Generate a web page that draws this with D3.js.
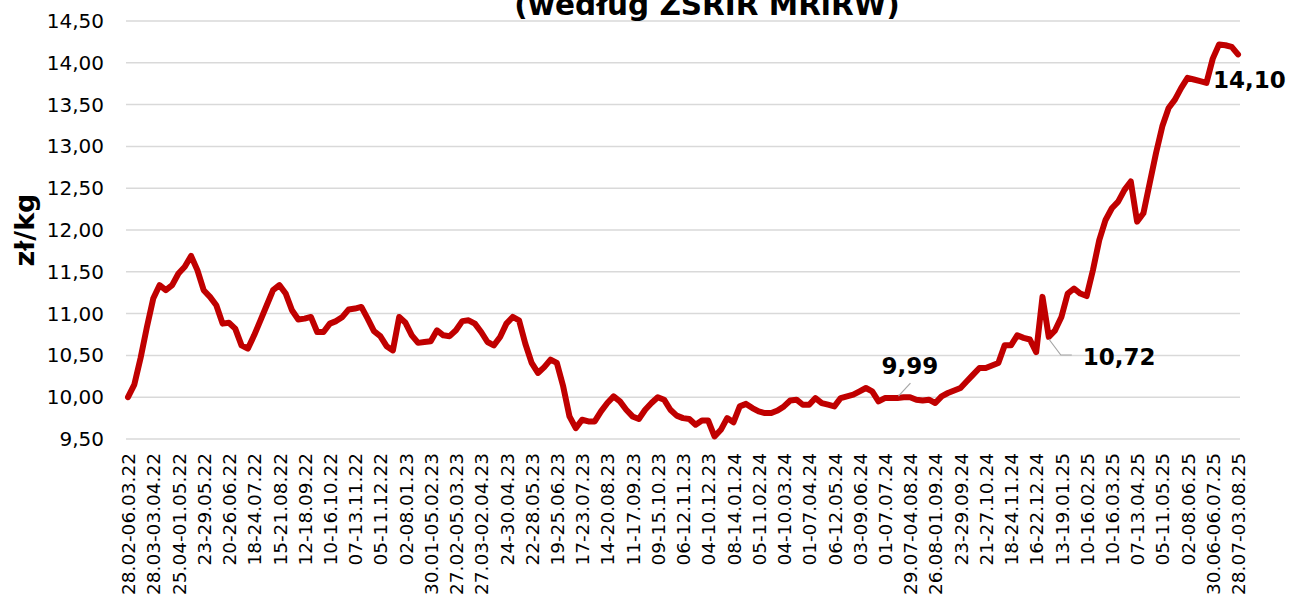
<!DOCTYPE html>
<html>
<head>
<meta charset="utf-8">
<script src="https://cdn.jsdelivr.net/npm/d3@7"></script>
<style>
  body { margin: 0; background: #fff; }
  svg { display: block; }
</style>
</head>
<body>
<div id="chart"></div>
<script>
// weekly prices, zł/kg (one value per week, two weeks missing in the series)
var prices = [
  10.00, 10.15, 10.47, 10.84, 11.18, 11.34, 11.28, 11.34, 11.48, 11.56,
  11.69, 11.52, 11.28, 11.20, 11.10, 10.88, 10.89, 10.82, 10.62, 10.58,
  10.74, 10.92, 11.10, 11.28, 11.34, 11.24, 11.04, 10.93, 10.94, 10.96,
  10.78, 10.78, 10.88, 10.91, 10.96, 11.05, 11.06, 11.08, 10.94, 10.79,
  10.73, 10.61, 10.56, 10.96, 10.89, 10.74, 10.65, 10.66, 10.67, 10.80,
  10.74, 10.73, 10.80, 10.91, 10.92, 10.88, 10.78, 10.66, 10.62, 10.72,
  10.88, 10.96, 10.92, 10.64, 10.41, 10.29, 10.36, 10.45, 10.41, 10.13,
  9.77, 9.63, 9.73, 9.71, 9.71, 9.83, 9.93, 10.01, 9.95, 9.85,
  9.77, 9.74, 9.85, 9.93, 10.00, 9.97, 9.85, 9.78, 9.75, 9.74,
  9.67, 9.72, 9.72, 9.53, 9.61, 9.75, 9.70, 9.89, 9.92, 9.87,
  9.83, 9.81, 9.81, 9.84, 9.89, 9.96, 9.97, 9.91, 9.91, 9.99,
  9.93, 9.91, 9.89, 9.99, 10.01, 10.03, 10.07, 10.11, 10.07, 9.95,
  9.99, 9.99, 9.99, 10.00, 10.00, 9.97, 9.96, 9.97, 9.93, 10.01,
  10.05, 10.08, 10.11, 10.19, 10.27, 10.35, 10.35, 10.38, 10.41, 10.62,
  10.62, 10.74, 10.71, 10.69, 10.54, 11.20, 10.72, 10.80, 10.96, 11.24,
  11.30, 11.24, 11.21, 11.52, 11.88, 12.12, 12.26, 12.34, 12.48, 12.58,
  12.10, 12.20, 12.56, 12.92, 13.24, 13.46, 13.56, 13.70, 13.82, 13.80,
  13.78, 13.76, 14.05, 14.22, 14.21, 14.19, 14.10
]

// labels shown on the x axis (every 4th week)
var weekLabels = [
  "28.02-06.03.22", "28.03-03.04.22", "25.04-01.05.22", "23-29.05.22", "20-26.06.22",
  "18-24.07.22", "15-21.08.22", "12-18.09.22", "10-16.10.22", "07-13.11.22",
  "05-11.12.22", "02-08.01.23", "30.01-05.02.23", "27.02-05.03.23", "27.03-02.04.23",
  "24-30.04.23", "22-28.05.23", "19-25.06.23", "17-23.07.23", "14-20.08.23",
  "11-17.09.23", "09-15.10.23", "06-12.11.23", "04-10.12.23", "08-14.01.24",
  "05-11.02.24", "04-10.03.24", "01-07.04.24", "06-12.05.24", "03-09.06.24",
  "01-07.07.24", "29.07-04.08.24", "26.08-01.09.24", "23-29.09.24", "21-27.10.24",
  "18-24.11.24", "16-22.12.24", "13-19.01.25", "10-16.02.25", "10-16.03.25",
  "07-13.04.25", "05-11.05.25", "02-08.06.25", "30.06-06.07.25", "28.07-03.08.25"
]

// y axis ticks
var yTicks = [9.5, 10, 10.5, 11, 11.5, 12, 12.5, 13, 13.5, 14, 14.5]

// weeks that carry a value label
var labelledWeeks = [122, 146, 176]

var width = 1290
var height = 599

var svg = d3.select("#chart")
  .append("svg")
    .attr("width", width)
    .attr("height", height)
    .style("font-family", "'DejaVu Sans', Verdana, sans-serif")

svg.append("rect").attr("width", width).attr("height", height).attr("fill", "#fff")

var x = d3.scaleLinear()
  .domain([0, prices.length - 1])
  .range([128, 1238])

var y = d3.scaleLinear()
  .domain([9.5, 14.5])
  .range([439, 21])

var fmt = function(v){ return d3.format(".2f")(v).replace(".", ",") }

// grid lines
svg.append("g")
  .selectAll("line")
  .data(yTicks)
  .enter()
  .append("line")
    .attr("x1", 126)
    .attr("x2", 1240)
    .attr("y1", d => y(d))
    .attr("y2", d => y(d))
    .attr("stroke", "#d9d9d9")
    .attr("stroke-width", 1.5)

// y axis
var yAxis = svg.append("g")
  .attr("transform", "translate(112,0)")
  .call(d3.axisLeft(y).tickValues(yTicks).tickSize(0).tickPadding(8).tickFormat(fmt))
yAxis.select(".domain").remove()
yAxis.selectAll("text")
  .attr("font-size", 20)
  .attr("font-family", "'DejaVu Sans', Verdana, sans-serif")
  .attr("fill", "#000")

// x axis, one label every 4 weeks
var tickIdx = weekLabels.map(function(d, i){ return i * 4 })
var xAxis = svg.append("g")
  .attr("transform", "translate(0,439)")
  .call(d3.axisBottom(x).tickValues(tickIdx).tickSize(0).tickFormat(function(d){ return weekLabels[d / 4] }))
xAxis.select(".domain").remove()
xAxis.selectAll("text")
  .attr("font-size", 18.5)
  .attr("font-family", "'DejaVu Sans', Verdana, sans-serif")
  .attr("fill", "#000")
  .attr("text-anchor", "end")
  .attr("transform", "rotate(-90)")
  .attr("x", -14)
  .attr("y", 0)
  .attr("dy", "0.36em")

// axis title
svg.append("text")
  .attr("transform", "translate(25,230) rotate(-90)")
  .attr("text-anchor", "middle")
  .attr("dy", "0.35em")
  .attr("font-size", 27)
  .attr("font-weight", "bold")
  .text("zł/kg")

// title (only its lower line is in view)
svg.append("text")
  .attr("x", 707)
  .attr("y", 15)
  .attr("text-anchor", "middle")
  .attr("font-size", 29.5)
  .attr("font-weight", "bold")
  .text("(według ZSRIR MRiRW)")

// price line
var line = d3.line()
  .x((d, i) => x(i))
  .y(d => y(d))

svg.append("path")
  .datum(prices)
  .attr("d", line)
  .attr("fill", "none")
  .attr("stroke", "#c00000")
  .attr("stroke-width", 6)
  .attr("stroke-linejoin", "round")
  .attr("stroke-linecap", "round")

// leader lines for the two inner labels
var px = function(i){ return x(i) }
var py = function(i){ return y(prices[i]) }
var a = labelledWeeks[0], b = labelledWeeks[1], c = labelledWeeks[2]

svg.append("path")
  .attr("d", "M" + (px(a) + 1) + "," + (py(a) - 2) + "L" + (px(a) + 13) + "," + (py(a) - 15))
  .attr("stroke", "#a6a6a6").attr("stroke-width", 1.2).attr("fill", "none")
svg.append("path")
  .attr("d", "M" + px(b) + "," + (py(b) + 2) + "L" + (px(b) + 12) + "," + (py(b) + 18) + "L" + (px(b) + 23) + "," + (py(b) + 18))
  .attr("stroke", "#a6a6a6").attr("stroke-width", 1.2).attr("fill", "none")

var labelPos = [
  [px(a) - 16, py(a) - 24],
  [px(b) + 34, py(b) + 28],
  [px(c) - 25, py(c) + 34]
]

svg.append("g")
  .selectAll("text")
  .data(labelledWeeks)
  .enter()
  .append("text")
    .attr("x", (d, i) => labelPos[i][0])
    .attr("y", (d, i) => labelPos[i][1])
    .attr("font-size", 23)
    .attr("font-weight", "bold")
    .attr("fill", "#000")
    .text(d => fmt(prices[d]))
</script>
</body>
</html>
